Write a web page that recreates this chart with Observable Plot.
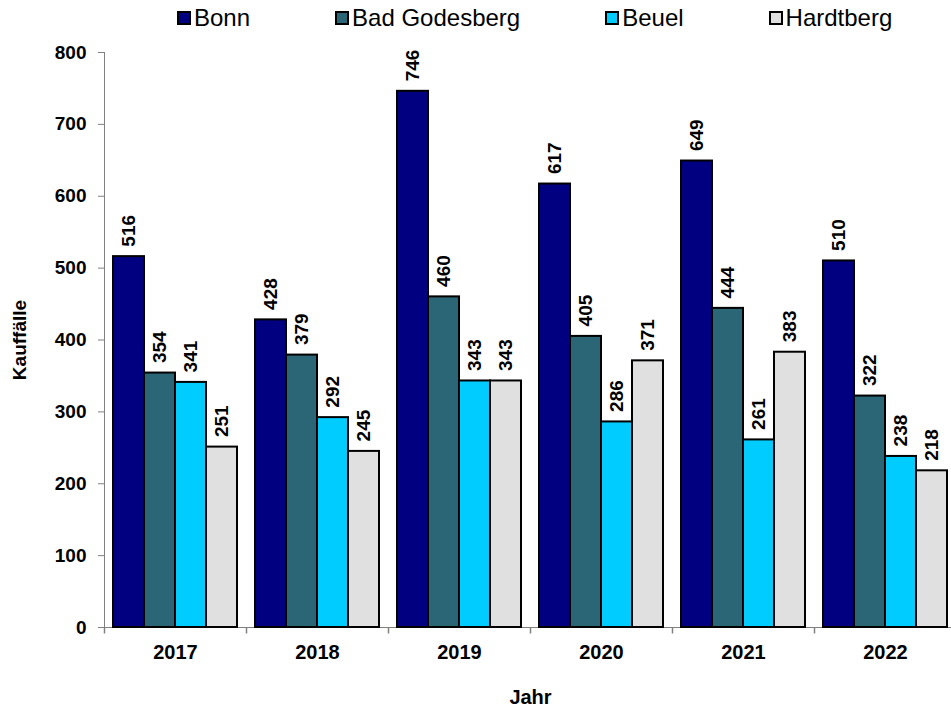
<!DOCTYPE html>
<html>
<head>
<meta charset="utf-8">
<script src="https://cdn.jsdelivr.net/npm/d3@7"></script>
<script src="https://cdn.jsdelivr.net/npm/@observablehq/plot@0.6"></script>
<style>
  html, body { margin: 0; padding: 0; background: #fff; overflow: hidden; }
  body { width: 957px; font-family: "Liberation Sans", Arial, sans-serif; }
  #legend { height: 36px; display: flex; align-items: center; padding-left: 177px; font-size: 24px; color: #000; white-space: nowrap; gap: 85px; }
  #legend .item { display: flex; align-items: center; flex-shrink: 0; }
  #legend .sw { width: 14px; height: 14px; border: 2px solid #000; box-sizing: border-box; margin-right: 3px; flex-shrink: 0; }
</style>
</head>
<body>
<div id="legend"></div>
<div id="chart"></div>
<script>
const years = ["2017", "2018", "2019", "2020", "2021", "2022"];
const series = ["Bonn", "Bad Godesberg", "Beuel", "Hardtberg"];
const colors = ["#000080", "#2B6676", "#00CCFF", "#E0E0E0"];
const bonn = [516, 428, 746, 617, 649, 510];
const badGodesberg = [354, 379, 460, 405, 444, 322];
const beuel = [341, 292, 343, 286, 261, 238];
const hardtberg = [251, 245, 343, 371, 383, 218];
const yTicks = [0, 100, 200, 300, 400, 500, 600, 700, 800];

const valuesBySeries = [bonn, badGodesberg, beuel, hardtberg];
const data = [];
years.forEach((y, i) => series.forEach((s, j) => data.push({year: y, series: s, value: valuesBySeries[j][i]})));

// legend
const legend = document.getElementById("legend");
series.forEach((s, j) => {
  const it = document.createElement("div");
  it.className = "item";
  const sw = document.createElement("div");
  sw.className = "sw";
  sw.style.background = colors[j];
  const t = document.createElement("span");
  t.textContent = s;
  it.appendChild(sw); it.appendChild(t);
  legend.appendChild(it);
});

const tickSymbol = { draw(ctx) { ctx.moveTo(0, 0); ctx.lineTo(0, 6); } };

const chart = Plot.plot({
  width: 957,
  height: 673,
  marginTop: 16,
  marginBottom: 82,
  marginLeft: 103,
  marginRight: 0,
  style: { fontFamily: "'Liberation Sans', Arial, sans-serif", color: "#000", background: "#fff" },
  fx: { domain: years, padding: 0 },
  x: { domain: series, paddingInner: 0, paddingOuter: 0.243, axis: null },
  y: { domain: [0, 800] },
  color: { domain: series, range: colors },
  marks: [
    Plot.frame({ anchor: "left", facetAnchor: "left", stroke: "#808080" }),
    Plot.ruleY([0], { stroke: "#808080" }),
    Plot.dot({ length: 1 }, { frameAnchor: "bottom-left", symbol: tickSymbol, stroke: "#808080", fill: "none", r: 3 }),
    Plot.axisY({ ticks: yTicks, tickSize: 6, stroke: "#808080", fill: "#000", fontSize: 19, fontWeight: "bold", tickPadding: 12,
      label: "Kauffälle", labelAnchor: "center", labelArrow: "none", labelOffset: 92 }),
    Plot.axisFx({ anchor: "bottom", tickSize: 0, fontSize: 20, fontWeight: "bold", tickPadding: 17, label: null }),
    Plot.axisFx({ anchor: "bottom", ticks: [], tickSize: 0, fontSize: 20, fontWeight: "bold", label: "Jahr", labelAnchor: "center", labelArrow: "none", labelOffset: 76, dx: -19 }),
    Plot.barY(data, { fx: "year", x: "series", y: "value", fill: "series", stroke: "#000", strokeWidth: 2 }),
    Plot.text(data, { fx: "year", x: "series", y: "value", text: d => String(d.value), rotate: -90, textAnchor: "start", lineAnchor: "middle", dy: -10, fontSize: 19, fontWeight: "bold", fill: "#000" })
  ]
});
document.getElementById("chart").appendChild(chart);
</script>
</body>
</html>
